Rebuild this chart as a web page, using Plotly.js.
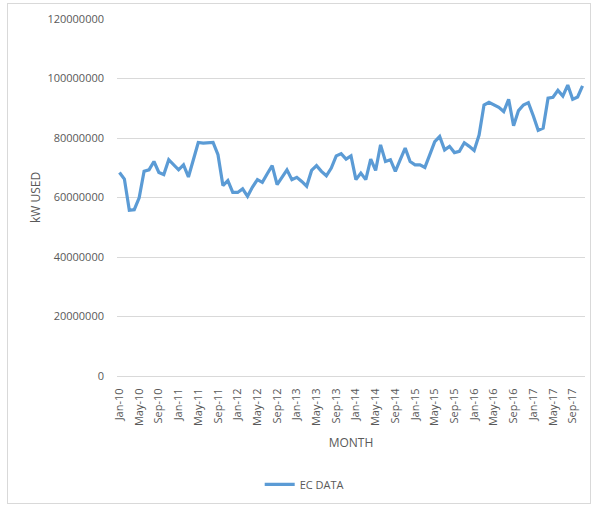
<!DOCTYPE html>
<html>
<head>
<meta charset="utf-8">
<script src="https://cdn.plot.ly/plotly-3.0.1.min.js"></script>
<style>
  html, body { margin: 0; padding: 0; background: #ffffff; }
  #frame { position: absolute; left: 7px; top: 3px; width: 584px; height: 501px; border: 1px solid #d9d9d9; box-sizing: border-box; pointer-events: none; z-index: 2; }
  #chart { position: absolute; left: 0; top: 0; width: 595px; height: 508px; }
</style>
</head>
<body>
<div id="chart"></div>
<div id="frame"></div>
<script>
// Data
const monthNames = ["Jan","Feb","Mar","Apr","May","Jun","Jul","Aug","Sep","Oct","Nov","Dec"];
const years = ["10","11","12","13","14","15","16","17"];
const lastMonthCount = 95; // Jan-10 .. Nov-17

// kW used per month
const ecData = [
  68400000, 66200000, 55700000, 55900000, 59900000, 68800000, 69300000, 72100000, 68400000, 67700000, 72700000, 70800000,
  69300000, 71000000, 66900000, 72700000, 78500000, 78300000, 78300000, 78500000, 74400000, 64000000, 65700000, 61700000,
  61700000, 62900000, 60400000, 63500000, 66000000, 65100000, 68000000, 70700000, 64300000, 66900000, 69300000, 66000000,
  66800000, 65400000, 63800000, 69100000, 70700000, 68800000, 67300000, 69900000, 74000000, 74700000, 72900000, 74000000,
  66000000, 68200000, 66000000, 72900000, 69100000, 77700000, 72100000, 72700000, 68800000, 72700000, 76600000, 72100000,
  71000000, 71000000, 70100000, 74400000, 78800000, 80500000, 76000000, 77200000, 75100000, 75500000, 78400000, 77200000,
  75800000, 81000000, 91100000, 92000000, 91100000, 90300000, 88900000, 93000000, 84100000, 89200000, 91100000, 91900000,
  87500000, 82600000, 83300000, 93400000, 93700000, 96000000, 94100000, 97800000, 93000000, 93800000, 97500000
];

const tickLabels = ["Jan-10","May-10","Sep-10","Jan-11","May-11","Sep-11","Jan-12","May-12","Sep-12",
  "Jan-13","May-13","Sep-13","Jan-14","May-14","Sep-14","Jan-15","May-15","Sep-15","Jan-16","May-16",
  "Sep-16","Jan-17","May-17","Sep-17"];

const yTicks = [0, 20000000, 40000000, 60000000, 80000000, 100000000, 120000000];

// category labels
const categories = [];
for (const y of years) {
  for (const m of monthNames) {
    if (categories.length < lastMonthCount) categories.push(m + "-" + y);
  }
}

const fontFam = "'Open Sans', 'Liberation Sans', sans-serif";
const grey = "#595959";

const trace = {
  type: "scatter",
  mode: "lines",
  name: "EC DATA",
  x: categories,
  y: ecData,
  line: { color: "#5b9bd5", width: 3.2 }
};

const layout = {
  width: 595,
  height: 508,
  paper_bgcolor: "#ffffff",
  plot_bgcolor: "#ffffff",
  margin: { l: 117, r: 10, t: 19, b: 131 },
  font: { family: fontFam, color: grey, size: 11 },
  showlegend: true,
  legend: {
    orientation: "h",
    x: 0.40, xanchor: "center",
    y: -0.30, yanchor: "middle",
    font: { family: fontFam, size: 11, color: grey },
    itemwidth: 30
  },
  xaxis: {
    type: "category",
    categoryorder: "array",
    categoryarray: categories,
    range: [-0.5, categories.length - 0.5],
    tickmode: "array",
    tickvals: tickLabels,
    ticktext: tickLabels,
    tickangle: -90,
    ticks: "",
    ticklabelstandoff: 7,
    showgrid: false,
    showline: true,
    linecolor: "#d9d9d9",
    linewidth: 1,
    zeroline: false,
    tickfont: { family: fontFam, size: 11, color: grey },
    title: { text: "MONTH", font: { family: fontFam, size: 12, color: grey }, standoff: 13 },
    fixedrange: true
  },
  yaxis: {
    range: [0, 120000000],
    tickmode: "array",
    tickvals: yTicks,
    ticktext: yTicks.map(v => String(v)),
    showgrid: true,
    gridcolor: "#d9d9d9",
    gridwidth: 1,
    zeroline: false,
    showline: false,
    ticks: "",
    ticklabelstandoff: 12,
    tickfont: { family: fontFam, size: 11, color: grey },
    title: { text: "kW USED", font: { family: fontFam, size: 12, color: grey }, standoff: 4 },
    fixedrange: true
  }
};

Plotly.newPlot("chart", [trace], layout, { displayModeBar: false, staticPlot: true });
</script>
</body>
</html>
